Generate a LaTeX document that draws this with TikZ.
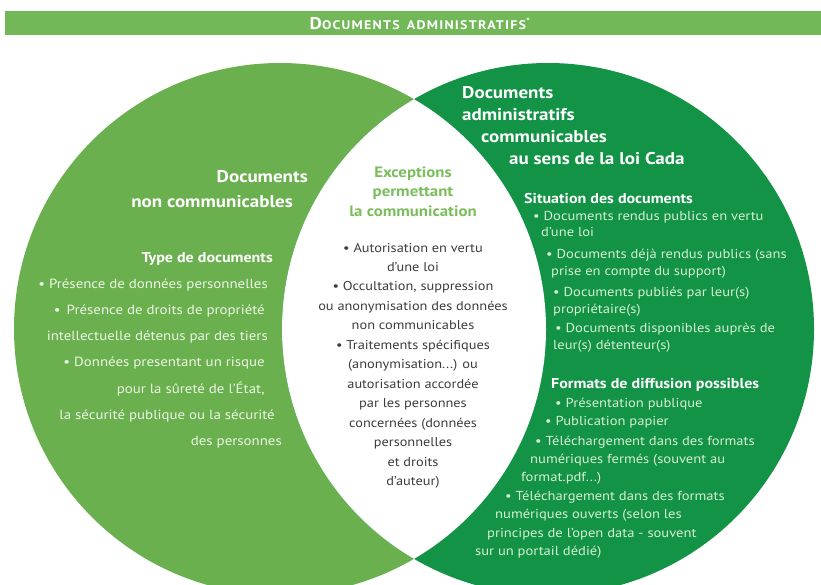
\documentclass[tikz,border=0pt]{standalone}
\usepackage{fontspec}
\setmainfont{PT Sans}[FakeStretch=1.12]
\definecolor{barcol}{RGB}{114,183,88}
\definecolor{leftg}{RGB}{106,176,78}
\definecolor{rightg}{RGB}{18,147,70}
\definecolor{midhead}{RGB}{122,189,92}
\definecolor{midtxt}{RGB}{60,60,60}
\definecolor{lefttxt}{RGB}{236,246,228}
\definecolor{righttxt}{RGB}{214,240,208}
\begin{document}
\begin{tikzpicture}[x=1pt,y=-1pt,
  lhead/.style={anchor=base east, inner sep=0, font=\bfseries\fontsize{17}{19}\selectfont, text=white},
  lsub/.style={anchor=base east, inner sep=0, font=\bfseries\fontsize{14.3}{16}\selectfont, text=white},
  lb/.style={anchor=base east, inner sep=0, font=\fontsize{13.3}{15}\selectfont, text=lefttxt},
  mhead/.style={anchor=base, inner sep=0, font=\bfseries\fontsize{15}{17}\selectfont, text=midhead},
  mb/.style={anchor=base, inner sep=0, font=\fontsize{12.8}{15}\selectfont, text=midtxt},
  rhead/.style={anchor=base west, inner sep=0, font=\bfseries\fontsize{17}{18}\selectfont, text=white},
  rsub/.style={anchor=base west, inner sep=0, font=\bfseries\fontsize{14.3}{16}\selectfont, text=white},
  rb/.style={anchor=base west, inner sep=0, font=\fontsize{13}{14}\selectfont, text=righttxt}]
\useasboundingbox (0,0) rectangle (821,584);
\clip (0,0) rectangle (821,584);
% title bar
\fill[barcol] (5,11) rectangle (821,35);
\node[anchor=base, inner sep=0, text=white, font=\bfseries\addfontfeature{LetterSpace=10}] (title) at (420,29)
  {\fontsize{17}{17}\selectfont D\fontsize{12.5}{12.5}\selectfont OCUMENTS\hspace{7pt}ADMINISTRATIFS\textsuperscript{*}};
% circles
\coordinate (cl) at (280,329);
\coordinate (cr) at (548,329);
\fill[leftg] (cl) circle (266pt);
\fill[rightg] (cr) circle (266pt);
\begin{scope}
  \clip (cl) circle (266pt);
  \fill[white] (cr) circle (266pt);
\end{scope}
% left circle text
\node[lhead] (l1) at (308,182) {Documents};
\node[lhead] (l2) at (293,207) {non communicables};
\node[lsub] (l3) at (273,262) {Type de documents};
\node[lb] (l4) at (268,288) {• Présence de données personnelles};
\node[lb] (l5) at (265,314) {•\, Présence de droits de propriété};
\node[lb] (l6) at (268,340) {intellectuelle détenus par des tiers};
\node[lb] (l7) at (265,366) {• Données presentant un risque};
\node[lb] (l8) at (265,393) {pour la sûreté de l’État,};
\node[lb] (l9) at (275,419) {la sécurité publique ou la sécurité};
\node[lb] (l10) at (282,445) {des personnes};
% middle text
\node[mhead] (m1) at (413,177) {Exceptions};
\node[mhead] (m2) at (413,196) {permettant};
\node[mhead] (m3) at (413,216) {la communication};
\node[mb] (m4) at (413,252) {• Autorisation en vertu};
\node[mb] (m5) at (413,271) {d’une loi};
\node[mb] (m6) at (413,290) {• Occultation, suppression};
\node[mb] (m7) at (413,310) {ou anonymisation des données};
\node[mb] (m8) at (413,329) {non communicables};
\node[mb] (m9) at (413,349) {• Traitements spécifiques};
\node[mb] (m10) at (413,368) {(anonymisation...) ou};
\node[mb] (m11) at (413,388) {autorisation accordée};
\node[mb] (m12) at (413,407) {par les personnes};
\node[mb] (m13) at (413,427) {concernées (données};
\node[mb] (m14) at (413,446) {personnelles};
\node[mb] (m15) at (413,466) {et droits};
\node[mb] (m16) at (413,485) {d’auteur)};
% right circle text
\node[rhead] (r1) at (462,98) {Documents};
\node[rhead] (r2) at (462,120) {administratifs};
\node[rhead] (r3) at (481,142) {communicables};
\node[rhead] (r4) at (509,164) {au sens de la loi Cada};
\node[rsub] (r5) at (524,203) {Situation des documents};
\node[rb] (r6) at (533,220) {• Documents rendus publics en vertu};
\node[rb] (r7) at (541,236) {d’une loi};
\node[rb] (r8) at (546,258) {• Documents déjà rendus publics (sans};
\node[rb] (r9) at (551,275) {prise en compte du support)};
\node[rb] (r10) at (553,296) {• Documents publiés par leur(s)};
\node[rb] (r11) at (553,313) {propriétaire(s)};
\node[rb] (r12) at (555,332) {• Documents disponibles auprès de};
\node[rb] (r13) at (553,349) {leur(s) détenteur(s)};
\node[rsub] (r14) at (551,388) {Formats de diffusion possibles};
\node[rb] (r15) at (555,407) {• Présentation publique};
\node[rb] (r16) at (545,425) {• Publication papier};
\node[rb] (r17) at (535,445) {• Téléchargement dans des formats};
\node[rb] (r18) at (530,463) {numériques fermés (souvent au};
\node[rb] (r19) at (521,481) {format.pdf...)};
\node[rb] (r20) at (505,500) {• Téléchargement dans des formats};
\node[rb] (r21) at (495,518) {numériques ouverts (selon les};
\node[rb] (r22) at (487,537) {principes de l’open data - souvent};
\node[rb] (r23) at (475,555) {sur un portail dédié)};
\end{tikzpicture}
\end{document}
